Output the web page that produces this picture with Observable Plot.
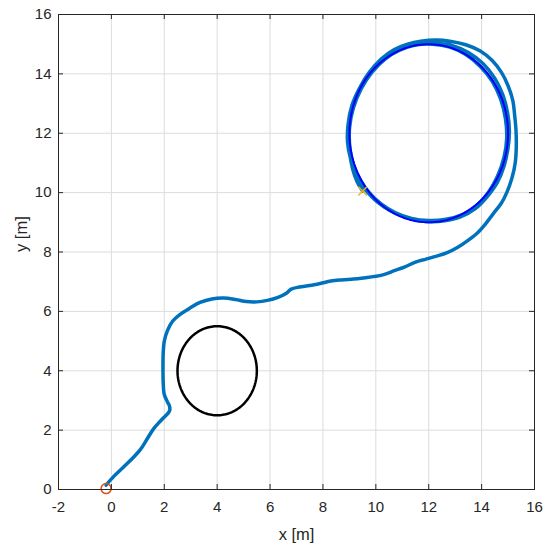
<!DOCTYPE html>
<html><head><meta charset="utf-8">
<script src="https://cdn.jsdelivr.net/npm/d3@7"></script>
<script src="https://cdn.jsdelivr.net/npm/@observablehq/plot@0.6"></script>
<style>body{margin:0;background:#fff;} #chart svg{display:block;}</style>
</head><body><div id="chart"></div>
<script>
const xTicks = [-2, 0, 2, 4, 6, 8, 10, 12, 14, 16];
const yTicks = [0, 2, 4, 6, 8, 10, 12, 14, 16];
const xLabel = "x [m]";
const yLabel = "y [m]";

// robot trajectory
const trajX = [-0.2, 0.1, 0.45, 0.8, 1.1, 1.35, 1.6, 1.9, 2.2, 2.2, 2.12, 2.0, 1.96, 1.95, 1.96, 2.0, 2.12, 2.3, 2.6, 2.95, 3.35, 3.8, 4.25, 4.7, 5.1, 5.5, 5.9, 6.3, 6.6, 6.8, 7.1, 7.5, 7.9, 8.3, 8.7, 9.3, 9.9, 10.3, 10.7, 11.1, 11.5, 11.9, 12.3, 12.7, 13.1, 13.5, 13.85, 14.15, 14.45, 14.75,
  14.95, 15.15, 15.27, 15.31, 15.3, 15.25, 15.18, 15.0, 14.75, 14.4, 13.95, 13.4, 12.8, 12.3, 11.7, 11.2, 10.7, 10.2, 9.75, 9.4, 9.1, 8.95, 8.93, 9.03, 9.25, 9.5, 9.85, 10.3, 10.8, 11.4, 12.0, 12.6, 13.2, 13.75, 14.2, 14.6, 14.85, 15.0, 15.05, 14.98, 14.8, 14.5, 14.05, 13.5, 12.9, 12.3, 11.7, 11.1, 10.55, 10.05, 9.65, 9.3, 9.08, 9.0, 9.02, 9.15, 9.4, 9.75, 10.2, 10.75, 11.35, 12.0, 12.65, 13.25, 13.8, 14.25, 14.6, 14.85, 14.95, 14.9, 14.72, 14.4, 13.95, 13.4, 12.8, 12.15, 11.5, 10.9, 10.35, 9.85, 9.45, 9.15, 9.0, 9.0, 9.12, 9.3, 9.5];
const trajY = [0.15, 0.45, 0.75, 1.05, 1.35, 1.7, 2.05, 2.35, 2.65, 2.8, 2.95, 3.2, 3.6, 4.1, 4.6, 5.0, 5.35, 5.65, 5.9, 6.1, 6.3, 6.42, 6.45, 6.4, 6.33, 6.32, 6.37, 6.47, 6.6, 6.75, 6.82, 6.87, 6.94, 7.02, 7.06, 7.1, 7.17, 7.24, 7.37, 7.5, 7.66, 7.76, 7.86, 7.98, 8.16, 8.4, 8.65, 8.95, 9.3, 9.65,
  10.0, 10.5, 11.0, 11.5, 12.1, 12.6, 13.1, 13.6, 14.05, 14.45, 14.77, 14.98, 15.1, 15.14, 15.1, 15.0, 14.82, 14.5, 14.05, 13.55, 12.95, 12.3, 11.7, 11.2, 10.7, 10.25, 9.85, 9.52, 9.28, 9.1, 9.02, 9.05, 9.18, 9.45, 9.85, 10.35, 10.9, 11.5, 12.1, 12.7, 13.3, 13.85, 14.35, 14.72, 14.95, 15.03, 15.02, 14.9, 14.65, 14.3, 13.85, 13.3, 12.7, 12.1, 11.5, 10.95, 10.45, 10.0, 9.62, 9.32, 9.13, 9.06, 9.1, 9.25, 9.55, 10.0, 10.55, 11.2, 11.85, 12.5, 13.15, 13.75, 14.25, 14.65, 14.9, 15.0, 14.97, 14.8, 14.5, 14.05, 13.5, 12.85, 12.15, 11.45, 10.8, 10.35, 10.05];

// obstacle and reference circle: centre and radius
const obstacleCenter = [4, 4];
const obstacleRadius = 1.5;
const refCenter = [12, 12];
const refRadius = 3;

const startPoint = [-0.2, 0.03];
const endPoint = [9.5, 10.05];

const traj = trajX.map((x, i) => ({x, y: trajY[i]}));
const circlePts = (c, r) => d3.range(0, 361, 2).map(a => ({x: c[0] + r * Math.cos(a * Math.PI / 180), y: c[1] + r * Math.sin(a * Math.PI / 180)}));

const W = 550, H = 548, mL = 58, mR = 16, mT = 14, mB = 59;
const iW = W - mL - mR, iH = H - mT - mB;
const ink = "#262626";
const tickLen = 5;
const fs = 15;
const lfs = 16.5;

const chart = Plot.plot({
  width: W, height: H,
  marginLeft: mL, marginRight: mR, marginTop: mT, marginBottom: mB,
  style: {fontFamily: "'Liberation Sans', Arial, sans-serif", fontSize: fs + "px", color: ink, background: "#fff"},
  x: {domain: [-2, 16]},
  y: {domain: [0, 16]},
  marks: [
    Plot.gridX(xTicks, {stroke: "#dcdcdc", strokeOpacity: 1}),
    Plot.gridY(yTicks, {stroke: "#dcdcdc", strokeOpacity: 1}),
    Plot.line(circlePts(obstacleCenter, obstacleRadius), {x: "x", y: "y", stroke: "#000", strokeWidth: 2.5}),
    Plot.line(traj, {x: "x", y: "y", stroke: "#0072BD", strokeWidth: 3.5, strokeLinejoin: "round", strokeLinecap: "round", curve: "catmull-rom"}),
    Plot.line(circlePts(refCenter, refRadius), {x: "x", y: "y", stroke: "#0000ff", strokeWidth: 2}),
    Plot.dot([startPoint], {x: d => d[0], y: d => d[1], r: 5, stroke: "#D95319", strokeWidth: 1.5, fill: "none"}),
    Plot.dot([endPoint], {x: d => d[0], y: d => d[1], r: 4, symbol: "times", stroke: "#EDB120", strokeWidth: 1.5}),
    Plot.tickX(xTicks, {x: d => d, insetTop: iH - tickLen, stroke: ink}),
    Plot.tickX(xTicks, {x: d => d, insetBottom: iH - tickLen, stroke: ink}),
    Plot.tickY(yTicks, {y: d => d, insetRight: iW - tickLen, stroke: ink}),
    Plot.tickY(yTicks, {y: d => d, insetLeft: iW - tickLen, stroke: ink}),
    Plot.frame({stroke: ink, strokeWidth: 1}),
    Plot.axisX(xTicks, {tickSize: 0, tickPadding: 12, fontSize: fs, label: null, tickFormat: d => String(d), fill: ink}),
    Plot.axisY(yTicks, {tickSize: 0, tickPadding: 7, fontSize: fs, label: null, tickFormat: d => String(d), fill: ink}),
    Plot.text([xLabel], {text: d => d, frameAnchor: "bottom", dy: 45, fontSize: lfs, fill: ink, lineAnchor: "middle"}),
    Plot.text([yLabel], {text: d => d, frameAnchor: "left", dx: -37, rotate: -90, fontSize: lfs, fill: ink, lineAnchor: "middle"})
  ]
});
document.getElementById("chart").appendChild(chart);
</script>
</body></html>
